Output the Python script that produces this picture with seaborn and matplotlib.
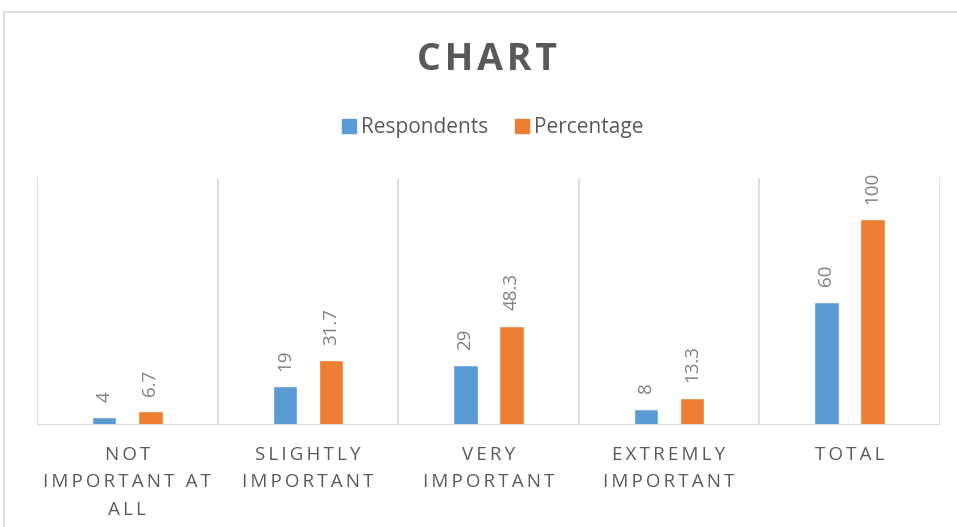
import matplotlib
matplotlib.use("Agg")
import matplotlib.pyplot as plt
import seaborn as sns
import pandas as pd
from matplotlib.patches import Rectangle

categories = ["NOT IMPORTANT AT ALL", "SLIGHTLY IMPORTANT", "VERY IMPORTANT",
              "EXTREMLY IMPORTANT", "TOTAL"]
tick_labels = ["NOT\nIMPORTANT AT\nALL", "SLIGHTLY\nIMPORTANT", "VERY\nIMPORTANT",
               "EXTREMLY\nIMPORTANT", "TOTAL"]
respondents = [4, 19, 29, 8, 60]
percentage = [6.7, 31.7, 48.3, 13.3, 100]
series_names = ["Respondents", "Percentage"]

df = pd.DataFrame({
    "category": categories * 2,
    "value": respondents + percentage,
    "series": [series_names[0]] * len(categories) + [series_names[1]] * len(categories),
})

sns.set_theme(style="white")
plt.rcParams["font.family"] = ["Open Sans", "DejaVu Sans"]

TEXT = "#595959"
LABEL = "#7F7F7F"
GRID = "#D9D9D9"
palette = {"Respondents": "#5B9BD5", "Percentage": "#ED7D31"}

fig = plt.figure(figsize=(9.57, 5.27), dpi=100)
ax = fig.add_axes([0.0387, 0.1935, 0.9433, 0.4685])

sns.barplot(data=df, x="category", y="value", hue="series", order=categories,
            hue_order=series_names, palette=palette, width=0.51, gap=0.47,
            saturation=1, ax=ax, legend=False)

ax.set_ylim(0, 120)
ax.set_xlim(-0.5, len(categories) - 0.5)
for b in range(len(categories) + 1):
    ax.axvline(b - 0.5, color=GRID, lw=1.2, zorder=0)
ax.axhline(0, color=GRID, lw=1.5, zorder=3)
for s in ax.spines.values():
    s.set_visible(False)
ax.set_yticks([])
ax.set_xlabel("")
ax.set_ylabel("")

def spaced(text):
    return "\n".join("\u2009".join(line) for line in text.split("\n"))

ax.set_xticks(range(len(categories)))
ax.set_xticklabels([spaced(t) for t in tick_labels], color=TEXT, fontsize=13.5,
                   linespacing=1.68, va="top")
ax.tick_params(axis="x", length=0, pad=15)

labels_by_series = [respondents, percentage]
for cont, vals in zip(ax.containers, labels_by_series):
    ax.bar_label(cont, labels=[f"{v:g}" for v in vals], rotation=90, padding=11,
                 color=LABEL, fontsize=13.5)

fig.text(0.509, 0.887, "\u200a".join("CHART"), ha="center", va="center",
         fontsize=27, fontweight="bold", color=TEXT)

handles = [Rectangle((0, 0), 1, 1, color=palette[n]) for n in series_names]
fig.legend(handles, series_names, loc="center", bbox_to_anchor=(0.515, 0.758),
           ncol=2, frameon=False, fontsize=15, labelcolor=TEXT,
           handlelength=0.65, handleheight=0.65, handletextpad=0.25,
           columnspacing=1.3)

fig.patches.append(Rectangle((4 / 957, -0.1), 1.2, 1 - 12 / 527 + 0.1,
                             transform=fig.transFigure, fill=False,
                             edgecolor=GRID, lw=1.2))

fig.savefig("out.png", dpi=100)
